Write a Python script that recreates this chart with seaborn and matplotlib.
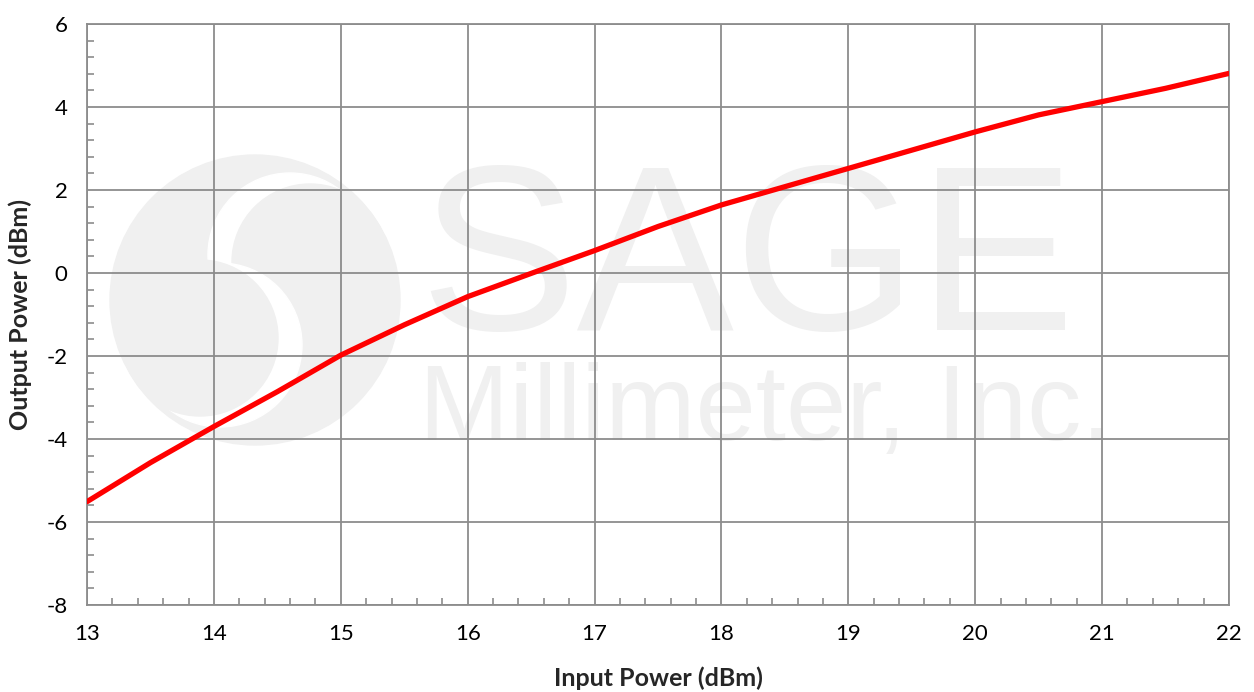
import matplotlib
matplotlib.use("Agg")
import matplotlib.pyplot as plt
from matplotlib.patches import Circle
from matplotlib.ticker import MultipleLocator
import seaborn as sns
import pandas as pd

input_power = [13, 13.5, 14, 14.5, 15, 15.5, 16, 16.5, 17, 17.5, 18, 18.5, 19, 19.5, 20, 20.5, 21, 21.5, 22]
output_power = [-5.51, -4.57, -3.70, -2.86, -1.98, -1.25, -0.57, -0.01, 0.54, 1.12, 1.64, 2.08, 2.52, 2.96, 3.40, 3.81, 4.13, 4.45, 4.81]

x_ticks = [13, 14, 15, 16, 17, 18, 19, 20, 21, 22]
y_ticks = [-8, -6, -4, -2, 0, 2, 4, 6]

df = pd.DataFrame({"input": input_power, "output": output_power})

sns.set_style("white")
plt.rcParams["font.family"] = ["Lato", "DejaVu Sans"]

W, H = 1254, 692
fig = plt.figure(figsize=(W / 100, H / 100), dpi=100)
ax = fig.add_axes([87 / W, 1 - 605 / H, (1229 - 87) / W, (605 - 24) / H])

# faint company watermark behind everything (pixel coords, y measured from top)
wm = "#f0f0f0"
logo = [((255, 300), 145, wm), ((290, 255), 82, "white"), ((310, 262), 78, wm),
        ((220, 345), 82, "white"), ((200, 338), 78, wm)]
for (cx, cy), r, c in logo:
    fig.patches.append(Circle((cx, H - cy), r, transform=None, color=c, zorder=-1))
fig.text(747 / W, 1 - 330 / H, "SAGE", fontsize=170, color=wm, ha="center",
         va="baseline", family="Liberation Sans", zorder=-1)
fig.text(765 / W, 1 - 440 / H, "Millimeter, Inc.", fontsize=78, color=wm, ha="center",
         va="baseline", family="Liberation Sans", zorder=-1)

sns.lineplot(data=df, x="input", y="output", ax=ax, color="#ff0000", linewidth=3.8, zorder=3)

ax.set_xlim(13, 22)
ax.set_ylim(-8, 6)
ax.set_xticks(x_ticks)
ax.set_yticks(y_ticks)
ax.xaxis.set_minor_locator(MultipleLocator(0.2))
ax.yaxis.set_minor_locator(MultipleLocator(0.4))
ax.set_yticklabels([str(v) for v in y_ticks])
ax.grid(True, which="major", color="#8c8c8c", linewidth=1.3)
ax.set_axisbelow(True)
ax.patch.set_alpha(0)
for s in ax.spines.values():
    s.set_color("#8c8c8c")
    s.set_linewidth(1.3)
ax.tick_params(which="major", length=0, labelsize=16, pad=14, colors="black")
ax.tick_params(which="minor", direction="in", length=5, width=1.2, color="#8c8c8c",
               bottom=True, left=True)

ax.set_xlabel("Input Power (dBm)", fontsize=18, fontweight="bold", labelpad=16)
ax.set_ylabel("Output Power (dBm)", fontsize=18, fontweight="bold", labelpad=10)

fig.savefig("out.png", dpi=100)
